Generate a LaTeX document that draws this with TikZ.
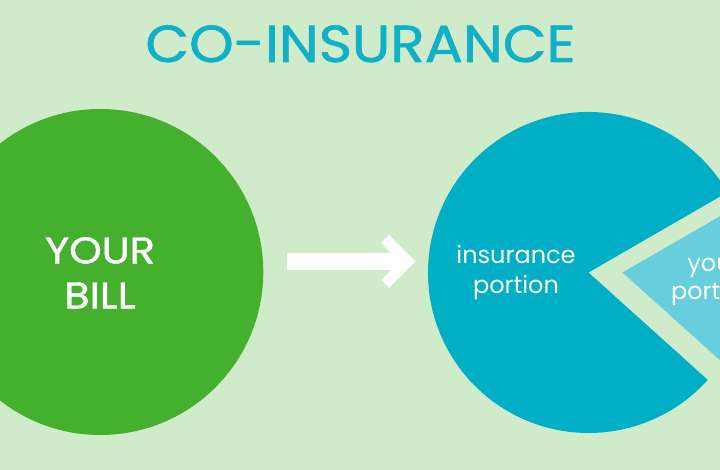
\documentclass[tikz,border=0pt]{standalone}
\usepackage{fontspec}
\setmainfont{Poppins}
\newfontfamily\titlefont{Poppins}[FakeBold=1.2, FakeStretch=1.09]
\newfontfamily\billfont{Poppins}[FakeBold=1.2, FakeStretch=1.12]
\newfontfamily\labelfont{Poppins}
\definecolor{bgc}{HTML}{D0EBCA}
\definecolor{billgreen}{HTML}{45B02E}
\definecolor{pieteal}{HTML}{00AFC6}
\definecolor{pielight}{HTML}{67CEDD}
\definecolor{titleteal}{HTML}{0FB0C8}
\begin{document}
\begin{tikzpicture}[x=1pt,y=1pt,
  bigtext/.style={font=\titlefont\fontsize{52}{52}\selectfont, text=titleteal, inner sep=0pt, anchor=base},
  billtext/.style={font=\billfont\fontsize{37}{37}\selectfont, text=white, inner sep=0pt, anchor=base},
  portiontext/.style={font=\labelfont\fontsize{24}{24}\selectfont, text=white, inner sep=0pt, anchor=base},
  shaft/.style={draw=white, line width=17pt, line cap=butt},
  chevron/.style={draw=white, line width=11pt, line cap=butt, line join=miter}]
\useasboundingbox (0,0) rectangle (720,470);
\clip (0,0) rectangle (720,470);
\fill[bgc] (0,0) rectangle (720,470);
% title
\node[bigtext] (title) at (360.5,408) {CO-INSURANCE};
% your bill circle
\node[circle, fill=billgreen, minimum size=326pt, inner sep=0pt] (bill) at (100.3,198) {};
\node[billtext] (bill1) at (100,206.7) {YOUR};
\node[billtext] (bill2) at (100,161.7) {BILL};
% pie
\coordinate (pie) at (588.5,197.5);
\coordinate (slice) at (622.5,197.5);
\fill[pieteal] (pie) -- ++(30:160.5pt) arc[start angle=30, end angle=318, radius=160.5pt] -- cycle;
\fill[pielight] (slice) -- ++(-42:160.5pt) arc[start angle=-42, end angle=30, radius=160.5pt] -- cycle;
\node[portiontext] (ins1) at (516,206.7) {insurance};
\node[portiontext] (ins2) at (516,176.7) {portion};
\node[portiontext] (you1) at (714,198.5) {your};
\node[portiontext] (you2) at (714,170.5) {portion};
% arrow
\coordinate (tail) at (287,208.5);
\coordinate (head) at (407.5,208.5);
\draw[shaft] (tail) -- ([xshift=-3.5pt]head);
\draw[chevron] ([shift={(-22.5,22.5)}]head) -- (head) -- ([shift={(-22.5,-22.5)}]head);
\end{tikzpicture}
\end{document}
